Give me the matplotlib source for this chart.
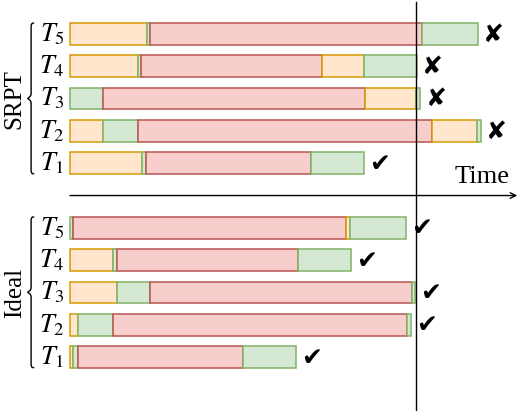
import matplotlib
matplotlib.use("Agg")
import matplotlib.pyplot as plt
from matplotlib.path import Path
from matplotlib.patches import PathPatch

plt.rcParams["font.family"] = ["Liberation Serif", "DejaVu Sans"]
plt.rcParams["mathtext.fontset"] = "stix"

# segment kinds: O = waiting (orange), G = short (green), R = long (red)
COLORS = {"O": ("#FFE6CC", "#D79B00"),
          "G": ("#D5E8D4", "#82B366"),
          "R": ("#F8CECC", "#B85450")}

tasks = ["$T_5$", "$T_4$", "$T_3$", "$T_2$", "$T_1$"]

# SRPT schedule: (kind, duration) per task, top row first
srpt_kinds = [["O", "G", "R", "G"],
              ["O", "G", "R", "O", "G"],
              ["G", "R", "O", "G"],
              ["O", "G", "R", "O", "G"],
              ["O", "G", "R", "G"]]
srpt_durs = [[22.2, 1.0, 78.6, 16.2],
             [19.6, 1.0, 52.4, 12.1, 15.2],
             [9.6, 75.8, 14.6, 1.4],
             [9.6, 10.0, 85.1, 13.0, 1.1],
             [20.7, 1.4, 47.5, 15.4]]
srpt_ok = [False, False, False, False, True]

# Ideal schedule
ideal_kinds = [["G", "R", "O", "G"],
               ["O", "G", "R", "G"],
               ["O", "G", "R", "G"],
               ["O", "G", "R", "G"],
               ["O", "G", "R", "G"]]
ideal_durs = [[1.0, 78.8, 1.2, 16.2],
              [12.5, 1.0, 52.4, 15.3],
              [13.5, 9.6, 75.7, 1.0],
              [2.4, 10.1, 84.9, 1.2],
              [0.8, 1.6, 47.6, 15.4]]
ideal_ok = [True, True, True, True, True]

deadline = 100.0

fig = plt.figure(figsize=(5.19, 4.11), dpi=100)
ax = fig.add_axes([0, 0, 1, 1])
ax.set_xlim(-20.25, 129.9)
ax.set_ylim(11.67, -1.053)
ax.axis("off")

PX = 3.457   # pixels per time unit
PY = 32.3    # pixels per row
BAR_H = 0.67


def brace(ax, y0, y1):
    base = -10.35
    s, t, e = base - 0.9, base - 1.9, base   # spine, tip, ends
    ym = (y0 + y1) / 2
    d = 5 / PY
    verts = [(e, y0), (s, y0), (s, y0 + d * 0.3), (s, y0 + d),
             (s, ym - d),
             (s, ym - d * 0.2), (t, ym - d * 0.1), (t, ym),
             (t, ym + d * 0.1), (s, ym + d * 0.2), (s, ym + d),
             (s, y1 - d),
             (s, y1 - d * 0.3), (s, y1), (e, y1)]
    codes = [Path.MOVETO, Path.CURVE4, Path.CURVE4, Path.CURVE4,
             Path.LINETO,
             Path.CURVE4, Path.CURVE4, Path.CURVE4,
             Path.CURVE4, Path.CURVE4, Path.CURVE4,
             Path.LINETO,
             Path.CURVE4, Path.CURVE4, Path.CURVE4]
    ax.add_patch(PathPatch(Path(verts, codes), fc="none", ec="black", lw=1.0))


def draw_group(row0, kinds, durs, ok, name):
    for i, (ks, ds) in enumerate(zip(kinds, durs)):
        row = row0 + i
        left = 0.0
        for k, d in zip(ks, ds):
            fc, ec = COLORS[k]
            ax.barh(row, d, left=left, height=BAR_H, color=fc,
                    edgecolor=ec, linewidth=1.1)
            left += d
        ax.text(-5.2, row, tasks[i], ha="center", va="center", fontsize=19)
        ax.text(left + 16 / PX, row + 0.02, "✔" if ok[i] else "✘",
                ha="center", va="center", fontsize=18,
                family="DejaVu Sans")
    brace(ax, row0 - 0.34, row0 + 4.33)
    ax.text(-16.0, row0 + 2, name, rotation=90, ha="center", va="center",
            fontsize=18)


draw_group(0, srpt_kinds, srpt_durs, srpt_ok, "SRPT")
draw_group(6, ideal_kinds, ideal_durs, ideal_ok, "Ideal")

# time axis and deadline
ax.annotate("", xy=(129.4, 5.0), xytext=(0, 5.0),
            arrowprops=dict(arrowstyle="->", lw=1.0, color="black",
                            shrinkA=0, shrinkB=0))
ax.text(119.1, 4.43, "Time", ha="center", va="center", fontsize=19)
ax.plot([deadline, deadline], [-0.98, 11.67], color="black", lw=1.0)

fig.savefig("out.png", dpi=100)
